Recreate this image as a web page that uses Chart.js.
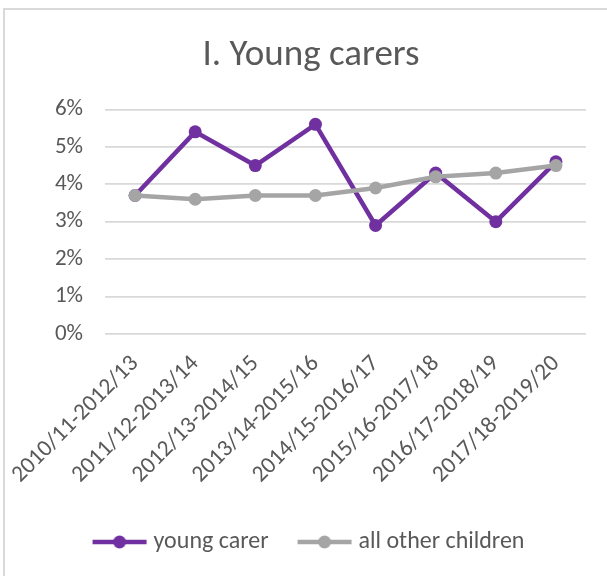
<!DOCTYPE html>
<html>
<head>
<meta charset="utf-8">
<script src="https://cdn.jsdelivr.net/npm/chart.js@4/dist/chart.umd.min.js"></script>
<style>
  html, body { margin: 0; padding: 0; background: #fff; overflow: hidden; }
  #frame { position: absolute; left: 3px; top: 8px; width: 640px; height: 620px; border: 2px solid #d9d9d9; }
  #wrap { position: absolute; left: 0; top: 0; width: 607px; height: 576px; }
</style>
</head>
<body>
<div id="frame"></div>
<div id="wrap"><canvas id="myChart" width="607" height="576"></canvas></div>
<script>
var periods = ['2010/11-2012/13', '2011/12-2013/14', '2012/13-2014/15', '2013/14-2015/16',
               '2014/15-2016/17', '2015/16-2017/18', '2016/17-2018/19', '2017/18-2019/20'];
var youngCarer = [3.7, 5.4, 4.5, 5.6, 2.9, 4.3, 3.0, 4.6];
var otherChildren = [3.7, 3.6, 3.7, 3.7, 3.9, 4.2, 4.3, 4.5];
var seriesNames = ['young carer', 'all other children'];
var seriesColors = ['#7030a0', '#a5a5a5'];

var fontFamily = 'Carlito, Lato, "Open Sans", sans-serif';
var textColor = '#595959';

// legend marker: short thick line with a dot in the middle
function legendMarker(color){
    var c = document.createElement('canvas');
    c.width = 58; c.height = 16;
    var g = c.getContext('2d');
    g.strokeStyle = color;
    g.lineWidth = 4.5;
    g.beginPath(); g.moveTo(2, 8); g.lineTo(56, 8); g.stroke();
    g.fillStyle = color;
    g.beginPath(); g.arc(29, 8, 6.5, 0, Math.PI * 2); g.fill();
    return c;
}
var markers = seriesColors.map(legendMarker);

function makeSet(name, values, color, order){
    return {
        label: name,
        data: values,
        borderColor: color,
        backgroundColor: color,
        borderWidth: 4.5,
        pointRadius: 6.5,
        pointHoverRadius: 6.5,
        pointBorderWidth: 0,
        pointBackgroundColor: color,
        tension: 0,
        order: order
    };
}

var ctx = document.getElementById('myChart').getContext('2d');
var lineChart = new Chart(ctx, {
    type: 'line',
    data: {
        labels: periods,
        datasets: [
            makeSet(seriesNames[0], youngCarer, seriesColors[0], 1),
            makeSet(seriesNames[1], otherChildren, seriesColors[1], 0)
        ]
    },
    options: {
        responsive: false,
        animation: false,
        layout: { padding: { left: 36, right: 21, top: 0, bottom: 12 } },
        plugins: {
            title: {
                display: true,
                text: 'I. Young carers',
                color: textColor,
                font: { family: fontFamily, size: 37, weight: 'normal' },
                padding: { top: 34, bottom: 31 }
            },
            legend: {
                position: 'bottom',
                labels: {
                    color: textColor,
                    font: { family: fontFamily, size: 24 },
                    usePointStyle: true,
                    pointStyleWidth: 44,
                    padding: 34,
                    generateLabels: function(chart){
                        var items = Chart.defaults.plugins.legend.labels.generateLabels(chart);
                        items.forEach(function(it){ it.pointStyle = markers[it.datasetIndex]; });
                        return items;
                    },
                    sort: function(a, b){ return a.datasetIndex - b.datasetIndex; }
                }
            },
            tooltip: { enabled: false }
        },
        scales: {
            x: {
                offset: true,
                grid: { display: false },
                border: { display: false },
                ticks: {
                    color: textColor,
                    font: { family: fontFamily, size: 23.5 },
                    minRotation: 45,
                    maxRotation: 45,
                    autoSkip: false,
                    padding: 8
                },
                afterFit: function(scale){
                    scale.height = 162;
                    scale.paddingLeft = 0;
                    scale.paddingRight = 0;
                }
            },
            y: {
                min: 0,
                max: 6,
                grid: { color: '#d9d9d9', lineWidth: 1.8, drawTicks: false },
                border: { display: false },
                ticks: {
                    stepSize: 1,
                    color: textColor,
                    font: { family: fontFamily, size: 23 },
                    padding: 22,
                    callback: function(v){ return v + '%'; }
                },
                afterFit: function(scale){
                    scale.width = 69;
                }
            }
        }
    }
});
</script>
</body>
</html>
